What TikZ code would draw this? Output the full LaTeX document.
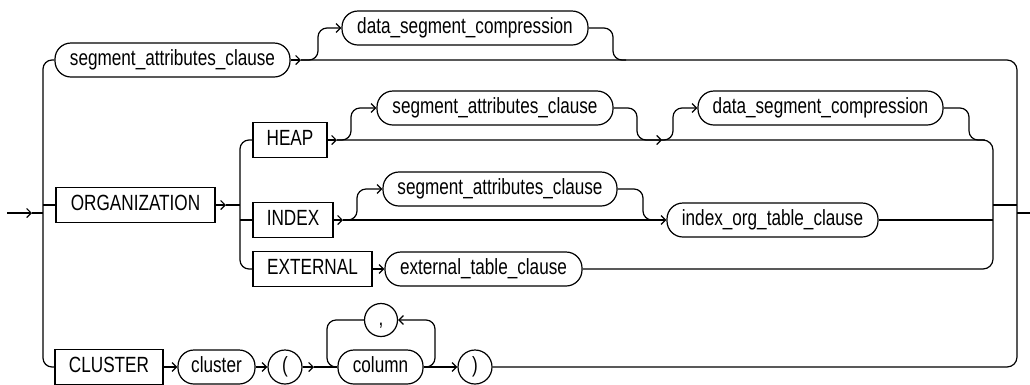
\documentclass[tikz,border=0pt]{standalone}
\usepackage{fontspec}
\setmainfont{Liberation Sans}[FakeStretch=0.78]
\usetikzlibrary{arrows.meta}
\newcommand\fsz{\fontsize{22}{24}\selectfont}
\tikzset{
  rail/.style={line width=1.2pt},
  arr/.style={rail,-{Straight Barb[length=4.5pt,width=9pt]}},
  txt/.style={font=\fsz,text height=15pt,text depth=4pt,inner sep=0pt},
  kw/.style={txt,draw,line width=1.2pt,rectangle,minimum height=35pt},
  nt/.style={txt,draw,line width=1.2pt,rounded corners=16pt,minimum height=34pt},
  tm/.style={txt,draw,line width=1.2pt,circle,minimum size=34pt},
}
\begin{document}
\begin{tikzpicture}[x=1pt,y=-1pt]
\useasboundingbox (0,0) rectangle (1030,384);
% nodes
\node[nt,minimum width=235pt] (sac1) at (172.5,60) {segment\_attributes\_clause};
\node[nt,minimum width=246pt] (dsc1) at (465,28) {data\_segment\_compression};
\node[kw,minimum width=159pt] (org) at (135.5,205) {ORGANIZATION};
\node[kw,minimum width=74pt] (heap) at (290,140) {HEAP};
\node[nt,minimum width=236pt] (sac2) at (495,108) {segment\_attributes\_clause};
\node[nt,minimum width=245pt] (dsc2) at (820.5,108) {data\_segment\_compression};
\node[kw,minimum width=80pt] (index) at (293,220) {INDEX};
\node[nt,minimum width=234pt] (sac3) at (500,189) {segment\_attributes\_clause};
\node[nt,minimum width=211pt] (iotc) at (772.5,220) {index\_org\_table\_clause};
\node[kw,minimum width=119pt] (ext) at (312.5,269) {EXTERNAL};
\node[nt,minimum width=197pt] (etc) at (483.5,269) {external\_table\_clause};
\node[kw,minimum width=108pt] (clu) at (109,367) {CLUSTER};
\node[nt,minimum width=77pt] (clun) at (216.5,367) {cluster};
\node[tm] (lp) at (285,367) {(};
\node[nt,minimum width=85pt] (col) at (380.5,367) {column};
\node[tm,minimum size=33pt] (comma) at (381,320) {,};
\node[tm] (rp) at (475,367) {)};
% free ends
\coordinate (in) at (7,213);
\coordinate (inA) at (32,213);
\coordinate (L) at (43,213);
\coordinate (R) at (1017,213);
\coordinate (out) at (1030,213);
% entry and left rail
\draw[arr] (in) -- (inA);
\draw[rail] (inA) -- (L);
\draw[rail,rounded corners=9pt] (sac1.west) -- (43,60) -- (43,367) -- (clu.west);
\draw[rail] (43,205) -- (org.west);
% organization
\draw[arr] (org.east) -- (226,205);
\draw[rail] (226,205) -- (240,205);
\draw[rail,rounded corners=9pt] (heap.west) -- (240,140) -- (240,269) -- (ext.west);
\draw[rail] (240,220) -- (index.west);
% top line
\draw[arr] (sac1.east) -- (301,60);
\draw[rail,rounded corners=10pt] (301,60) -- (1017,60) -- (1017,367) -- (rp.east);
\draw[arr,rounded corners=9pt] (301,60) -- (318,60) -- (318,28) -- (dsc1.west);
\draw[rail,rounded corners=9pt] (dsc1.east) -- (613,28) -- (613,60) -- (626,60);
% heap row
\draw[arr] (heap.east) -- (337,140);
\draw[rail,rounded corners=10pt] (337,140) -- (993,140) -- (993,269) -- (etc.east);
\draw[arr,rounded corners=9pt] (337,140) -- (351,140) -- (351,108) -- (sac2.west);
\draw[arr,rounded corners=9pt] (sac2.east) -- (637,108) -- (637,140) -- (662,140);
\draw[arr,rounded corners=9pt] (662,140) -- (673,140) -- (673,108) -- (dsc2.west);
\draw[rail,rounded corners=9pt] (dsc2.east) -- (969,108) -- (969,140) -- (985,140);
% index row
\draw[arr] (index.east) -- (343,220);
\draw[arr] (343,220) -- (iotc.west);
\draw[arr,rounded corners=9pt] (343,220) -- (357,220) -- (357,189) -- (sac3.west);
\draw[rail,rounded corners=9pt] (sac3.east) -- (643,189) -- (643,220) -- (656,220);
\draw[rail] (iotc.east) -- (993,220);
% external row
\draw[arr] (ext.east) -- (etc.west);
% joins and exit
\draw[rail] (993,205) -- (1017,205);
\draw[rail] (R) -- (out);
% cluster row
\draw[arr] (clu.east) -- (clun.west);
\draw[arr] (clun.east) -- (lp.west);
\draw[arr] (lp.east) -- (314,367);
\draw[rail] (314,367) -- (col.west);
\draw[rail,rounded corners=9pt] (comma.west) -- (327,320) -- (327,367) -- (col.west);
\draw[arr,rounded corners=9pt] (col.east) -- (435,367) -- (435,320) -- (comma.east);
\draw[arr] (col.east) -- (rp.west);
\end{tikzpicture}
\end{document}
